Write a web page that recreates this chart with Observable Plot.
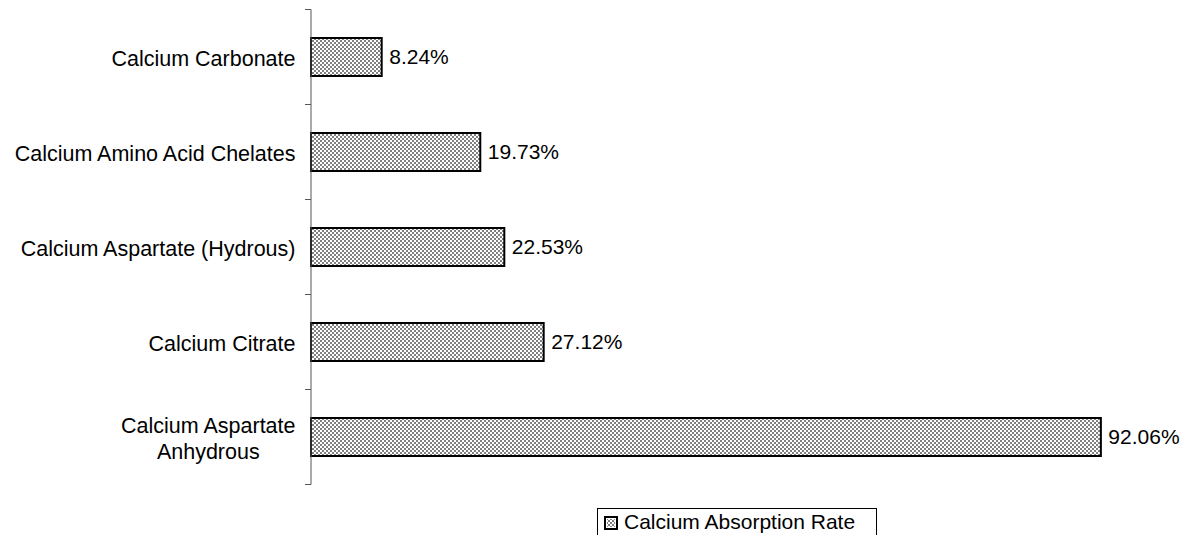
<!DOCTYPE html>
<html>
<head>
<meta charset="utf-8">
<script src="https://cdn.jsdelivr.net/npm/d3@7"></script>
<script src="https://cdn.jsdelivr.net/npm/@observablehq/plot@0.6"></script>
<style>
  body { margin: 0; background: #fff; font-family: "Liberation Sans", Arial, sans-serif; }
  #chart { width: 1192px; }
  #chart svg { display: block; }
  .legend { margin-left: 597px; margin-top: 8px; width: 280px; height: 30px; border: 1px solid #000; border-bottom: none; box-sizing: border-box; font-size: 21px; line-height: 26px; padding-left: 6px; white-space: nowrap; color: #000; }
  .legend svg { display: inline-block !important; vertical-align: -1px; margin-right: 6px; }
</style>
</head>
<body>
<div id="chart"></div>
<script>
const categories = [
  "Calcium Carbonate",
  "Calcium Amino Acid Chelates",
  "Calcium Aspartate (Hydrous)",
  "Calcium Citrate",
  "Calcium Aspartate\nAnhydrous"
];
const values = [8.24, 19.73, 22.53, 27.12, 92.06];
const seriesName = "Calcium Absorption Rate";

const data = categories.map((c, i) => ({ category: c, value: values[i] }));

const boundaryTicks = (index, scales, vals, dims) => {
  const y = scales.y;
  const g = d3.create("svg:g");
  const dom = y.domain();
  const bw = y.bandwidth();
  const step = y.step();
  const gap = (step - bw) / 2;
  const x0 = scales.x(0);
  const ys = dom.map(d => y(d) - gap);
  ys.push(y(dom[dom.length - 1]) + bw + gap);
  g.append("line").attr("x1", x0).attr("x2", x0).attr("y1", ys[0]).attr("y2", ys[ys.length - 1])
    .attr("stroke", "#555").attr("stroke-width", 1);
  ys.forEach(v => g.append("line").attr("x1", x0 - 6).attr("x2", x0).attr("y1", v).attr("y2", v)
    .attr("stroke", "#555").attr("stroke-width", 1));
  return g.node();
};

const plot = Plot.plot({
  width: 1192,
  height: 500,
  marginLeft: 311,
  marginRight: 23,
  marginTop: 10,
  marginBottom: 15,
  style: { fontFamily: "'Liberation Sans', Arial, sans-serif", fontSize: "21.5px", color: "#000", background: "#fff" },
  x: { domain: [0, 100], axis: null },
  y: { domain: categories, padding: 0.6, paddingOuter: 0.3, label: null },
  marks: [
    Plot.axisY({ tickSize: 0, tickPadding: 16, fontSize: 21.5, lineHeight: 1.2, label: null }),
    Plot.barX(data, { x: "value", y: "category", fill: "url(#checker)", stroke: "#000", strokeWidth: 2 }),
    Plot.text(data, { x: "value", y: "category", text: d => d.value.toFixed(2) + "%", textAnchor: "start", dx: 7, fontSize: 21, fill: "#000" }),
    boundaryTicks
  ]
});

const defs = d3.select(plot).insert("defs", ":first-child");
const pat = defs.append("pattern").attr("id", "checker").attr("patternUnits", "userSpaceOnUse")
  .attr("width", 4).attr("height", 4);
pat.append("rect").attr("width", 4).attr("height", 4).attr("fill", "#fff");
pat.append("rect").attr("width", 2).attr("height", 2).attr("fill", "#808080");
pat.append("rect").attr("x", 2).attr("y", 2).attr("width", 2).attr("height", 2).attr("fill", "#808080");

const chart = document.getElementById("chart");
chart.appendChild(plot);

const legend = document.createElement("div");
legend.className = "legend";
legend.innerHTML = '<svg width="14" height="14"><rect x="1" y="1" width="12" height="12" fill="#fff" stroke="#000" stroke-width="2"/><rect x="3" y="3" width="8" height="8" fill="url(#checker)"/></svg>' + seriesName;
document.body.appendChild(legend);

// center multi-line tick labels like the original
try {
  d3.select(plot).selectAll("[aria-label='y-axis tick label'] text").each(function () {
    const tspans = d3.select(this).selectAll("tspan");
    if (tspans.size() > 1) {
      const bb = this.getBBox();
      const cx = bb.x + bb.width / 2;
      d3.select(this).attr("text-anchor", "middle");
      tspans.attr("x", cx);
    }
  });
} catch (e) { console.error(e); }
</script>
</body>
</html>
